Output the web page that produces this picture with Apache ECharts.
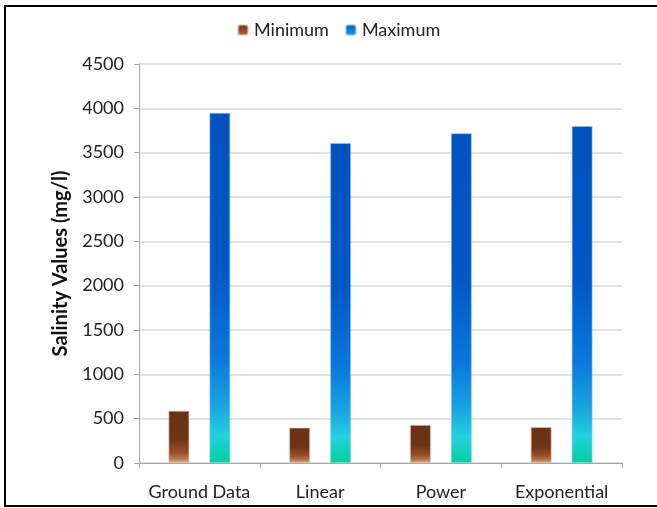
<!DOCTYPE html>
<html>
<head>
<meta charset="utf-8">
<script src="https://cdn.jsdelivr.net/npm/echarts@6/dist/echarts.min.js"></script>
<style>
  html, body { margin: 0; padding: 0; background: #fff; }
  #chart { width: 657px; height: 508px; }
</style>
</head>
<body>
<div id="chart"></div>
<script>
// Salinity estimates per method
const categories = ['Ground Data', 'Linear', 'Power', 'Exponential'];
const minimumValues = [590, 400, 430, 405];
const maximumValues = [3950, 3610, 3720, 3800];
const yTicks = { min: 0, max: 4500, interval: 500 };

const FONT = 'Lato, "Open Sans", sans-serif';

const brownFill = new echarts.graphic.LinearGradient(0, 0, 0, 1, [
  { offset: 0, color: '#6a3114' },
  { offset: 0.55, color: '#6e3416' },
  { offset: 0.8, color: '#9a5028' },
  { offset: 0.92, color: '#b77a55' },
  { offset: 1, color: '#dcb29a' }
]);
const blueFill = new echarts.graphic.LinearGradient(0, 0, 0, 1, [
  { offset: 0, color: '#0052bd' },
  { offset: 0.45, color: '#0058c4' },
  { offset: 0.7, color: '#0a78dc' },
  { offset: 0.84, color: '#18a6e0' },
  { offset: 0.92, color: '#22d2de' },
  { offset: 1, color: '#00d19c' }
]);
const legendBrown = new echarts.graphic.LinearGradient(0, 0, 0, 1, [
  { offset: 0, color: '#6a3114' }, { offset: 1, color: '#b06a40' }
]);
const legendBlue = new echarts.graphic.LinearGradient(0, 0, 0, 1, [
  { offset: 0, color: '#0056c2' }, { offset: 1, color: '#1aa0e8' }
]);

const chart = echarts.init(document.getElementById('chart'), null, { renderer: 'canvas' });
chart.setOption({
  animation: false,
  backgroundColor: '#ffffff',
  graphic: [{
    type: 'rect',
    shape: { x: 5, y: 6, width: 700, height: 500 },
    style: { fill: 'none', stroke: '#000', lineWidth: 2 },
    silent: true
  }],
  legend: {
    top: 16,
    left: 232,
    itemWidth: 10,
    itemHeight: 10,
    itemGap: 16,
    textStyle: { fontFamily: FONT, fontSize: 18, color: '#222', padding: [0, 0, 0, 1] },
    data: [
      { name: 'Minimum', itemStyle: { color: legendBrown } },
      { name: 'Maximum', itemStyle: { color: legendBlue } }
    ]
  },
  grid: { left: 139, right: 35, top: 64, bottom: 45 },
  xAxis: {
    type: 'category',
    data: categories,
    axisLine: { lineStyle: { color: '#a6a6a6' } },
    axisTick: { show: true, interval: 0, length: 5, lineStyle: { color: '#a6a6a6' } },
    axisLabel: { interval: 0, fontFamily: FONT, fontSize: 18, color: '#222', margin: 20 }
  },
  yAxis: {
    type: 'value',
    min: yTicks.min,
    max: yTicks.max,
    interval: yTicks.interval,
    name: 'Salinity Values (mg/l)',
    nameLocation: 'middle',
    nameGap: 68,
    nameTextStyle: { fontFamily: FONT, fontSize: 20, fontWeight: 'bold', color: '#111' },
    axisLine: { show: true, lineStyle: { color: '#a6a6a6' } },
    axisTick: { show: true, length: 5, lineStyle: { color: '#a6a6a6' } },
    axisLabel: {
      fontFamily: FONT, fontSize: 18, color: '#222', margin: 15,
      formatter: v => String(v)
    },
    splitLine: { lineStyle: { color: '#d9d9d9', width: 1.5 } }
  },
  series: [
    {
      name: 'Minimum',
      type: 'bar',
      data: minimumValues,
      barWidth: 21,
      barGap: '95%',
      itemStyle: { color: brownFill, borderColor: 'rgba(225,190,170,0.6)', borderWidth: 1 }
    },
    {
      name: 'Maximum',
      type: 'bar',
      data: maximumValues,
      barWidth: 21,
      barGap: '95%',
      itemStyle: { color: blueFill, borderColor: 'rgba(150,200,240,0.6)', borderWidth: 1 }
    }
  ]
});
</script>
</body>
</html>
